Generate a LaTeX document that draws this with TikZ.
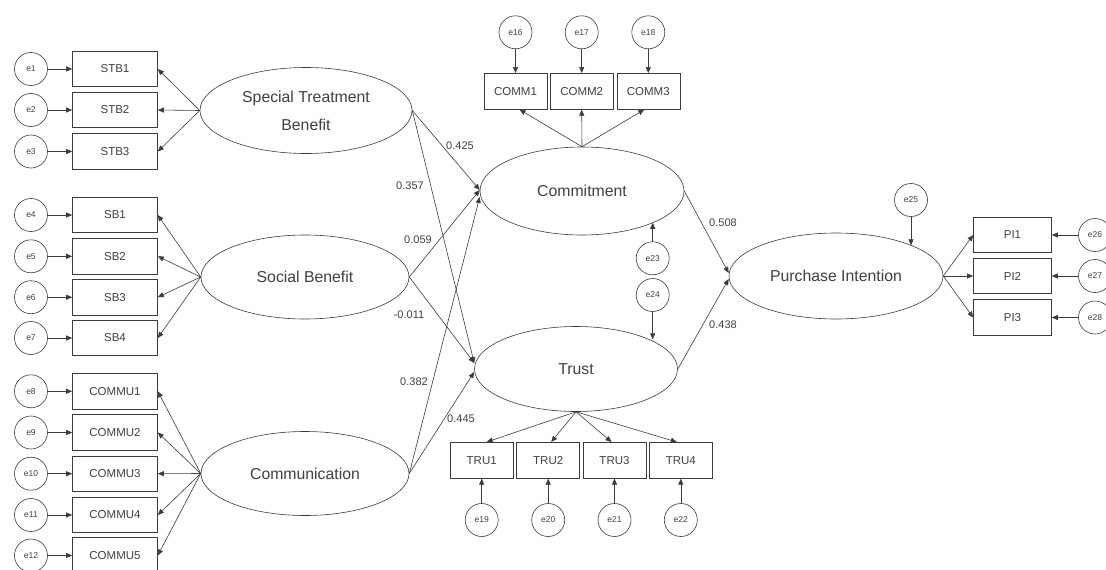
\documentclass[tikz,border=0pt]{standalone}
\usepackage{fontspec}
\setmainfont{Liberation Sans}
\usetikzlibrary{shapes.geometric,arrows.meta}
\definecolor{ink}{HTML}{3C3C3C}
\definecolor{txt}{HTML}{404040}
\begin{document}
\begin{tikzpicture}[x=1pt,y=-1pt,
  lat/.style={ellipse, draw=ink, line width=0.6pt, inner sep=0pt, text=txt,
    font=\fontsize{15.8}{19}\selectfont, align=center},
  obs/.style={rectangle, draw=ink, line width=0.6pt, inner sep=0pt, text=txt,
    minimum height=35.5pt, font=\fontsize{11.5}{13}\selectfont},
  err/.style={circle, draw=ink, line width=0.6pt, minimum size=33pt, inner sep=0pt,
    text=txt, font=\fontsize{8.5}{10}\selectfont},
  coef/.style={text=txt, font=\fontsize{11}{13}\selectfont, inner sep=0pt},
  link/.style={draw=ink, line width=0.6pt, -{Triangle[length=6pt,width=5pt]}},
]
\useasboundingbox[fill=white] (0,0) rectangle (1106,570);

% latent constructs
\node[lat, minimum width=212pt, minimum height=86pt] (stb) at (306,110.5)
  {Special Treatment\\[9pt]Benefit};
\node[lat, minimum width=208pt, minimum height=84pt] (sb) at (305,277) {Social Benefit};
\node[lat, minimum width=208pt, minimum height=84pt] (com) at (305,473.5) {Communication};
\node[lat, minimum width=204pt, minimum height=88pt] (commit) at (582,191) {Commitment};
\node[lat, minimum width=203pt, minimum height=85pt] (trust) at (576,369) {Trust};
\node[lat, minimum width=214pt, minimum height=86pt] (pi) at (836,276) {Purchase Intention};

% indicators of the three exogenous constructs, with their error terms
\foreach \n/\t/\y in {1/STB1/69, 2/STB2/110, 3/STB3/151.5,
                      4/SB1/215, 5/SB2/256.3, 6/SB3/297.2, 7/SB4/338,
                      8/COMMU1/391.3, 9/COMMU2/432.5, 10/COMMU3/473.7,
                      11/COMMU4/515, 12/COMMU5/555.5}{
  \node[obs, minimum width=85pt] (m\n) at (115,\y) {\t};
  \node[err] (e\n) at (31,\y) {e\n};
  \draw[link] (e\n) -- (m\n);
}
\foreach \n in {1,2,3}{\draw[link] (stb.west) -- (m\n.east);}
\foreach \n in {4,5,6,7}{\draw[link] (sb.west) -- (m\n.east);}
\foreach \n in {8,9,10,11,12}{\draw[link] (com.west) -- (m\n.east);}

% commitment indicators
\foreach \n/\t/\x/\s in {16/COMM1/515.5/4, 17/COMM2/581.7/0, 18/COMM3/648.3/-4}{
  \node[obs, minimum width=63pt, minimum height=36pt] (m\n) at (\x,91.3) {\t};
  \node[err] (e\n) at (\x,32.3) {e\n};
  \draw[link] (e\n) -- (m\n);
  \draw[link] (commit.north) -- ([xshift=\s pt]m\n.south);
}

% trust indicators
\foreach \n/\t/\x/\s in {19/TRU1/481.7/5, 20/TRU2/548.2/3, 21/TRU3/614.5/-3, 22/TRU4/680.8/-4}{
  \node[obs, minimum width=63pt, minimum height=36pt] (m\n) at (\x,460.3) {\t};
  \node[err] (e\n) at (\x,520) {e\n};
  \draw[link] (e\n) -- (m\n);
  \draw[link] (trust.south) -- ([xshift=\s pt]m\n.north);
}

% purchase intention indicators
\foreach \n/\t/\y in {26/PI1/235, 27/PI2/276, 28/PI3/317.5}{
  \node[obs, minimum width=78pt] (m\n) at (1012.5,\y) {\t};
  \node[err] (e\n) at (1095,\y) {e\n};
  \draw[link] (e\n) -- (m\n);
  \draw[link] (pi.east) -- (m\n.west);
}

% disturbances
\node[err] (e23) at (652.7,258.3) {e23};
\node[err] (e24) at (652.7,295) {e24};
\node[err] (e25) at (911,200) {e25};
\draw[link] (e23.north) -- (e23 |- commit.-24);
\draw[link] (e24.south) -- (e24 |- trust.22);
\draw[link] (e25.south) -- (e25 |- pi.22);

% structural paths
\draw[link] (stb.east) -- ([yshift=1pt]commit.west);
\draw[link] (stb.east) -- ([yshift=6pt]trust.west);
\draw[link] (sb.east) -- ([yshift=1pt]commit.west);
\draw[link] (sb.east) -- ([yshift=6pt]trust.west);
\draw[link] (com.east) -- ([yshift=-6pt]commit.west);
\draw[link] (com.east) -- ([yshift=-3pt]trust.west);
\draw[link] (commit.east) -- ([yshift=3pt]pi.west);
\draw[link] (trust.east) -- ([yshift=-3pt]pi.west);

% path coefficients
\node[coef] (c1) at (460,146) {0.425};
\node[coef] (c2) at (410,186) {0.357};
\node[coef] (c3) at (418,240) {0.059};
\node[coef] (c4) at (409,315) {-0.011};
\node[coef] (c5) at (414,382) {0.382};
\node[coef] (c6) at (461,419) {0.445};
\node[coef] (c7) at (723,223) {0.508};
\node[coef] (c8) at (723,325) {0.438};
\end{tikzpicture}
\end{document}
